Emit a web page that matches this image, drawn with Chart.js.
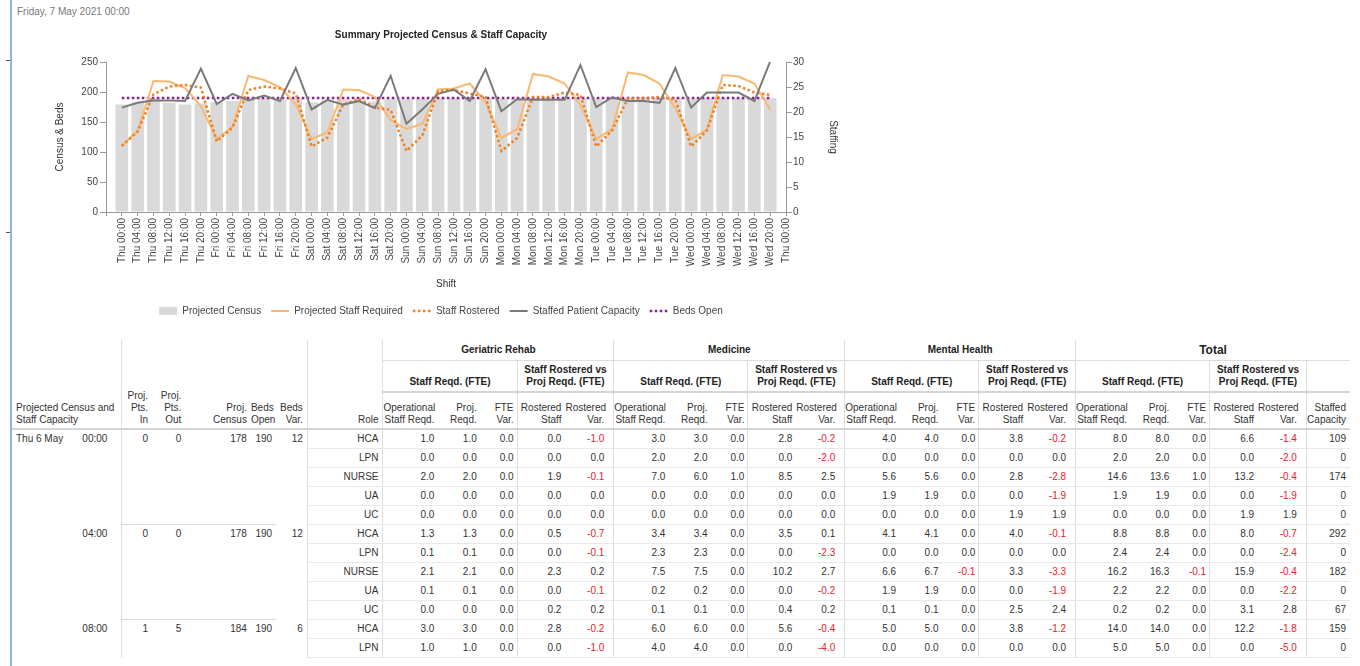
<!DOCTYPE html>
<html>
<head>
<meta charset="utf-8">
<script src="https://cdn.jsdelivr.net/npm/chart.js@4.4.0/dist/chart.umd.min.js"></script>
<style>
body { margin:0; background:#fff; font-family:"Liberation Sans", Arial, sans-serif; font-size:10px; color:#333; width:1360px; height:666px; overflow:hidden; position:relative; }
#edge { position:absolute; left:10px; top:0; width:2px; height:666px; background:#8fb3dc; }
.nub { position:absolute; left:6px; width:4px; height:1px; background:#555; }
#date { position:absolute; left:17px; top:6px; color:#777; font-size:10px; }
#chartBox { position:absolute; left:0; top:0; }
table { position:absolute; left:12px; top:340px; border-collapse:collapse; table-layout:fixed; width:1338px; }
td, th { padding:0 4px 0 0; text-align:right; vertical-align:bottom; white-space:nowrap; overflow:hidden; font-weight:normal; line-height:12px; color:#333; }
th.grp { font-weight:bold; text-align:center; vertical-align:middle; height:20px; border-bottom:1px solid #ddd; padding:0; color:#222; }
th.tot { font-size:12px; }
th.sub { font-weight:bold; text-align:center; height:27px; padding:0 0 3px 0; border-bottom:2px solid #d4d4d4; color:#222; }
th.col { height:33px; padding-bottom:2px; border-bottom:2px solid #d4d4d4; }
th.lefthead { text-align:left; padding-left:4px; }
td { height:18px; line-height:18px; }
td.v { border-bottom:1px solid #e8e8e8; }
td.blk { vertical-align:top; }
td.blkend { border-bottom:1px solid #d8d8d8; }
td.date { text-align:left; padding-left:4px; vertical-align:top; }
td.time { padding-right:14px; vertical-align:top; }
.vl { border-left:1px solid #dedede; }
.p3 { padding-right:3px; }
.p9 { padding-right:9px; }
.neg { color:#e8202a; }
</style>
</head>
<body>
<div id="edge"></div>
<div class="nub" style="top:60px"></div>
<div class="nub" style="top:232px"></div>
<div id="date">Friday, 7 May 2021 00:00</div>
<div id="chartBox"><canvas id="chart" width="860" height="330"></canvas></div>
<table id="tbl"></table>

<script>
"use strict";

// ---- chart data ----
const shiftLabels = [
	'Thu 00:00', 'Thu 04:00', 'Thu 08:00', 'Thu 12:00', 'Thu 16:00', 'Thu 20:00',
	'Fri 00:00', 'Fri 04:00', 'Fri 08:00', 'Fri 12:00', 'Fri 16:00', 'Fri 20:00',
	'Sat 00:00', 'Sat 04:00', 'Sat 08:00', 'Sat 12:00', 'Sat 16:00', 'Sat 20:00',
	'Sun 00:00', 'Sun 04:00', 'Sun 08:00', 'Sun 12:00', 'Sun 16:00', 'Sun 20:00',
	'Mon 00:00', 'Mon 04:00', 'Mon 08:00', 'Mon 12:00', 'Mon 16:00', 'Mon 20:00',
	'Tue 00:00', 'Tue 04:00', 'Tue 08:00', 'Tue 12:00', 'Tue 16:00', 'Tue 20:00',
	'Wed 00:00', 'Wed 04:00', 'Wed 08:00', 'Wed 12:00', 'Wed 16:00', 'Wed 20:00',
	'Thu 00:00'
];

const projectedCensus = [179, 183, 189, 182, 179, 181, 183, 185, 187, 189, 187, 190,
	183, 186, 188, 186, 184, 188, 188, 189, 190, 190, 191, 190,
	189, 190, 190, 191, 190, 190, 189, 190, 190, 191, 190, 190,
	189, 190, 190, 190, 190, 190];

const projStaffRequired = [13.3, 16.2, 26.2, 26.1, 24.8, 21.2, 14.6, 17.0, 27.2, 26.4, 25.0, 21.6,
	14.6, 15.9, 24.5, 24.4, 23.0, 18.4, 16.6, 17.6, 24.5, 24.7, 25.7, 22.0,
	14.8, 16.6, 27.6, 27.1, 25.7, 21.4, 14.6, 16.6, 27.9, 27.4, 25.7, 20.7,
	14.6, 16.5, 27.4, 27.1, 25.7, 20.5];

const staffRostered = [13.2, 16.1, 23.5, 25.1, 25.4, 24.9, 14.1, 16.9, 24.4, 25.1, 24.7, 23.7,
	13.1, 14.9, 21.5, 22.6, 20.9, 20.4, 12.2, 15.3, 24.2, 24.4, 23.7, 23.0,
	12.2, 14.8, 23.0, 23.0, 23.9, 23.4, 13.1, 16.3, 22.7, 22.7, 23.0, 22.5,
	13.1, 16.3, 25.4, 25.2, 23.9, 23.4];

const staffedCapacity = [174, 182, 186, 186, 185, 239, 180, 197, 186, 194, 185, 240,
	171, 187, 179, 185, 173, 227, 147, 171, 197, 204, 185, 238,
	168, 188, 187, 187, 187, 245, 175, 191, 185, 185, 182, 240,
	174, 199, 199, 199, 185, 251];

const bedsOpenLine = [190, 190, 190, 190, 190, 190, 190, 190, 190, 190, 190, 190,
	190, 190, 190, 190, 190, 190, 190, 190, 190, 190, 190, 190,
	190, 190, 190, 190, 190, 190, 190, 190, 190, 190, 190, 190,
	190, 190, 190, 190, 190, 190];

const censusTicks = { min: 0, max: 250, step: 50 };
const staffTicks = { min: 0, max: 30, step: 5 };

// ---- table data ----
const units = ['Geriatric Rehab', 'Medicine', 'Mental Health', 'Total'];
const blockDates = ['Thu 6 May', '', ''];
const blockTimes = ['00:00', '04:00', '08:00'];
const ptsIn = [0, 0, 1];
const ptsOut = [0, 0, 5];
const blockCensus = [178, 178, 184];
const blockBedsOpen = [190, 190, 190];
const blockBedsVar = [12, 12, 6];
const blockRoles = [
	['HCA', 'LPN', 'NURSE', 'UA', 'UC'],
	['HCA', 'LPN', 'NURSE', 'UA', 'UC'],
	['HCA', 'LPN']
];
// each row: 4 units x [op. reqd, proj. reqd, FTE var, rostered, rostered var], staffed capacity
const roleRows = [
	[1.0, 1.0, 0.0, 0.0, -1.0, 3.0, 3.0, 0.0, 2.8, -0.2, 4.0, 4.0, 0.0, 3.8, -0.2, 8.0, 8.0, 0.0, 6.6, -1.4, 109],
	[0.0, 0.0, 0.0, 0.0, 0.0, 2.0, 2.0, 0.0, 0.0, -2.0, 0.0, 0.0, 0.0, 0.0, 0.0, 2.0, 2.0, 0.0, 0.0, -2.0, 0],
	[2.0, 2.0, 0.0, 1.9, -0.1, 7.0, 6.0, 1.0, 8.5, 2.5, 5.6, 5.6, 0.0, 2.8, -2.8, 14.6, 13.6, 1.0, 13.2, -0.4, 174],
	[0.0, 0.0, 0.0, 0.0, 0.0, 0.0, 0.0, 0.0, 0.0, 0.0, 1.9, 1.9, 0.0, 0.0, -1.9, 1.9, 1.9, 0.0, 0.0, -1.9, 0],
	[0.0, 0.0, 0.0, 0.0, 0.0, 0.0, 0.0, 0.0, 0.0, 0.0, 0.0, 0.0, 0.0, 1.9, 1.9, 0.0, 0.0, 0.0, 1.9, 1.9, 0],
	[1.3, 1.3, 0.0, 0.5, -0.7, 3.4, 3.4, 0.0, 3.5, 0.1, 4.1, 4.1, 0.0, 4.0, -0.1, 8.8, 8.8, 0.0, 8.0, -0.7, 292],
	[0.1, 0.1, 0.0, 0.0, -0.1, 2.3, 2.3, 0.0, 0.0, -2.3, 0.0, 0.0, 0.0, 0.0, 0.0, 2.4, 2.4, 0.0, 0.0, -2.4, 0],
	[2.1, 2.1, 0.0, 2.3, 0.2, 7.5, 7.5, 0.0, 10.2, 2.7, 6.6, 6.7, -0.1, 3.3, -3.3, 16.2, 16.3, -0.1, 15.9, -0.4, 182],
	[0.1, 0.1, 0.0, 0.0, -0.1, 0.2, 0.2, 0.0, 0.0, -0.2, 1.9, 1.9, 0.0, 0.0, -1.9, 2.2, 2.2, 0.0, 0.0, -2.2, 0],
	[0.0, 0.0, 0.0, 0.2, 0.2, 0.1, 0.1, 0.0, 0.4, 0.2, 0.1, 0.1, 0.0, 2.5, 2.4, 0.2, 0.2, 0.0, 3.1, 2.8, 67],
	[3.0, 3.0, 0.0, 2.8, -0.2, 6.0, 6.0, 0.0, 5.6, -0.4, 5.0, 5.0, 0.0, 3.8, -1.2, 14.0, 14.0, 0.0, 12.2, -1.8, 159],
	[1.0, 1.0, 0.0, 0.0, -1.0, 4.0, 4.0, 0.0, 0.0, -4.0, 0.0, 0.0, 0.0, 0.0, 0.0, 5.0, 5.0, 0.0, 0.0, -5.0, 0]
];

// ---- chart ----
Chart.defaults.font.family = '"Liberation Sans", Arial, sans-serif';
Chart.defaults.font.size = 10;
Chart.defaults.color = '#444';

const xLabels = [''].concat(shiftLabels);
function pad(arr) { return [null].concat(arr); }

const ctx = document.getElementById('chart');
const chart = new Chart(ctx, {
	type: 'bar',
	data: {
		labels: xLabels,
		datasets: [
			{
				type: 'bar', label: 'Projected Census', data: pad(projectedCensus), yAxisID: 'y',
				backgroundColor: '#d9d9d9', borderWidth: 0, barPercentage: 0.8, categoryPercentage: 1,
				pointStyle: 'rect', order: 5
			},
			{
				type: 'line', label: 'Projected Staff Required', data: pad(projStaffRequired), yAxisID: 'y1',
				borderColor: '#f9b870', backgroundColor: '#f9b870', borderWidth: 2, pointRadius: 0,
				tension: 0, pointStyle: 'line', order: 3
			},
			{
				type: 'line', label: 'Staff Rostered', data: pad(staffRostered), yAxisID: 'y1',
				borderColor: '#f08020', backgroundColor: '#f08020', borderWidth: 2.5, borderDash: [2.5, 2.5],
				pointRadius: 0, tension: 0, pointStyle: 'line', order: 2
			},
			{
				type: 'line', label: 'Staffed Patient Capacity', data: pad(staffedCapacity), yAxisID: 'y',
				borderColor: '#7a7a7a', backgroundColor: '#7a7a7a', borderWidth: 2, pointRadius: 0,
				tension: 0, pointStyle: 'line', order: 1
			},
			{
				type: 'line', label: 'Beds Open', data: pad(bedsOpenLine), yAxisID: 'y',
				borderColor: '#8e1f8e', backgroundColor: '#8e1f8e', borderWidth: 2.5, borderDash: [2.5, 2.5],
				pointRadius: 0, tension: 0, pointStyle: 'line', order: 4
			}
		]
	},
	options: {
		responsive: false,
		animation: false,
		layout: { padding: { left: 40, right: 18, top: 0, bottom: 4 } },
		plugins: {
			title: {
				display: true, text: 'Summary Projected Census & Staff Capacity', color: '#222',
				font: { size: 10, weight: 'bold' }, padding: { top: 29, bottom: 21 }
			},
			legend: {
				position: 'bottom',
				labels: {
					usePointStyle: true, pointStyleWidth: 18, boxHeight: 8, padding: 10, color: '#444',
					sort: function (a, b) { return a.datasetIndex - b.datasetIndex; },
					generateLabels: function (ch) {
						const items = Chart.defaults.plugins.legend.labels.generateLabels(ch);
						items.forEach(function (item) {
							const ds = ch.data.datasets[item.datasetIndex];
							item.pointStyle = ds.type === 'bar' ? 'rect' : 'line';
							item.lineDash = ds.borderDash || [];
							item.lineWidth = ds.borderWidth;
							item.strokeStyle = ds.borderColor || ds.backgroundColor;
						});
						return items;
					}
				}
			},
			tooltip: { enabled: false }
		},
		scales: {
			x: {
				offset: false,
				grid: { offset: false, drawOnChartArea: false, tickLength: 4, color: '#999' },
				border: { color: '#999' },
				ticks: { autoSkip: false, maxRotation: 90, minRotation: 90, padding: 2, color: '#444' },
				title: { display: true, text: 'Shift', color: '#333', padding: { top: 0, bottom: 6 } },
				afterFit: function (s) { s.height = 84; }
			},
			y: {
				position: 'left', min: censusTicks.min, max: censusTicks.max,
				ticks: { stepSize: censusTicks.step, padding: 2, color: '#444' },
				grid: { drawOnChartArea: false, tickLength: 6, color: '#999' },
				border: { color: '#999' },
				title: { display: true, text: 'Census & Beds', color: '#333', padding: { top: 14, bottom: 0 } },
				afterFit: function (s) { s.width = 66; }
			},
			y1: {
				position: 'right', min: staffTicks.min, max: staffTicks.max,
				ticks: { stepSize: staffTicks.step, padding: 1, color: '#444' },
				grid: { drawOnChartArea: false, tickLength: 6, color: '#999' },
				border: { color: '#999' },
				title: { display: true, text: 'Staffing', color: '#333', padding: { top: 3, bottom: 0 } },
				afterFit: function (s) { s.width = 56; }
			}
		}
	}
});

// ---- table ----
const colWidths = [63, 46, 30, 33, 65, 25, 31, 75];
const unitCols = [55, 42, 36, 48, 48];
const unitHeads = ['Operational<br>Staff Reqd.', 'Proj.<br>Reqd.', 'FTE<br>Var.', 'Rostered<br>Staff', 'Rostered<br>Var.'];
const unitPad = ['', '', 'p3', '', 'p9'];

function fmt(v) { return v.toFixed(1); }

let html = '<colgroup>';
colWidths.forEach(function (w) { html += '<col style="width:' + w + 'px">'; });
units.forEach(function () { unitCols.forEach(function (w) { html += '<col style="width:' + w + 'px">'; }); });
html += '<col style="width:43px"></colgroup>';

// header row 1
html += '<tr>';
html += '<th rowspan="3" colspan="2" class="col lefthead">Projected Census and<br>Staff Capacity</th>';
html += '<th rowspan="3" class="col vl">Proj.<br>Pts.<br>In</th>';
html += '<th rowspan="3" class="col">Proj.<br>Pts.<br>Out</th>';
html += '<th rowspan="3" class="col">Proj.<br>Census</th>';
html += '<th rowspan="3" class="col">Beds<br>Open</th>';
html += '<th rowspan="3" class="col">Beds<br>Var.</th>';
html += '<th rowspan="3" class="col vl">Role</th>';
units.forEach(function (u, i) {
	const last = i === units.length - 1;
	html += '<th class="grp vl' + (last ? ' tot' : '') + '" colspan="' + (last ? 6 : 5) + '">' + u + '</th>';
});
html += '</tr>';

// header row 2
html += '<tr>';
units.forEach(function () {
	html += '<th class="sub vl" colspan="3">Staff Reqd. (FTE)</th>';
	html += '<th class="sub vl" colspan="2">Staff Rostered vs<br>Proj Reqd. (FTE)</th>';
});
html += '<th class="sub vl"></th>';
html += '</tr>';

// header row 3
html += '<tr>';
units.forEach(function () {
	unitHeads.forEach(function (h, k) {
		html += '<th class="col ' + unitPad[k] + (k === 0 || k === 3 ? ' vl' : '') + '">' + h + '</th>';
	});
});
html += '<th class="col vl">Staffed<br>Capacity</th>';
html += '</tr>';

// body
let r = 0;
blockRoles.forEach(function (roles, b) {
	const n = roles.length;
	const endCls = b < blockRoles.length - 1 ? ' blkend' : '';
	roles.forEach(function (role, k) {
		const row = roleRows[r++];
		html += '<tr>';
		if (k === 0) {
			html += '<td rowspan="' + n + '" class="date">' + blockDates[b] + '</td>';
			html += '<td rowspan="' + n + '" class="time">' + blockTimes[b] + '</td>';
			html += '<td rowspan="' + n + '" class="blk vl' + endCls + '">' + ptsIn[b] + '</td>';
			html += '<td rowspan="' + n + '" class="blk' + endCls + '">' + ptsOut[b] + '</td>';
			html += '<td rowspan="' + n + '" class="blk' + endCls + '">' + blockCensus[b] + '</td>';
			html += '<td rowspan="' + n + '" class="blk' + endCls + '">' + blockBedsOpen[b] + '</td>';
			html += '<td rowspan="' + n + '" class="blk">' + blockBedsVar[b] + '</td>';
		}
		html += '<td class="v vl">' + role + '</td>';
		for (let u = 0; u < units.length; u++) {
			for (let c = 0; c < 5; c++) {
				const v = row[u * 5 + c];
				let cls = 'v ' + unitPad[c];
				if (c === 0 || c === 3) cls += ' vl';
				if (v < 0) cls += ' neg';
				html += '<td class="' + cls + '">' + fmt(v) + '</td>';
			}
		}
		html += '<td class="v vl">' + row[20] + '</td>';
		html += '</tr>';
	});
});

document.getElementById('tbl').innerHTML = html;
</script>
</body>
</html>
